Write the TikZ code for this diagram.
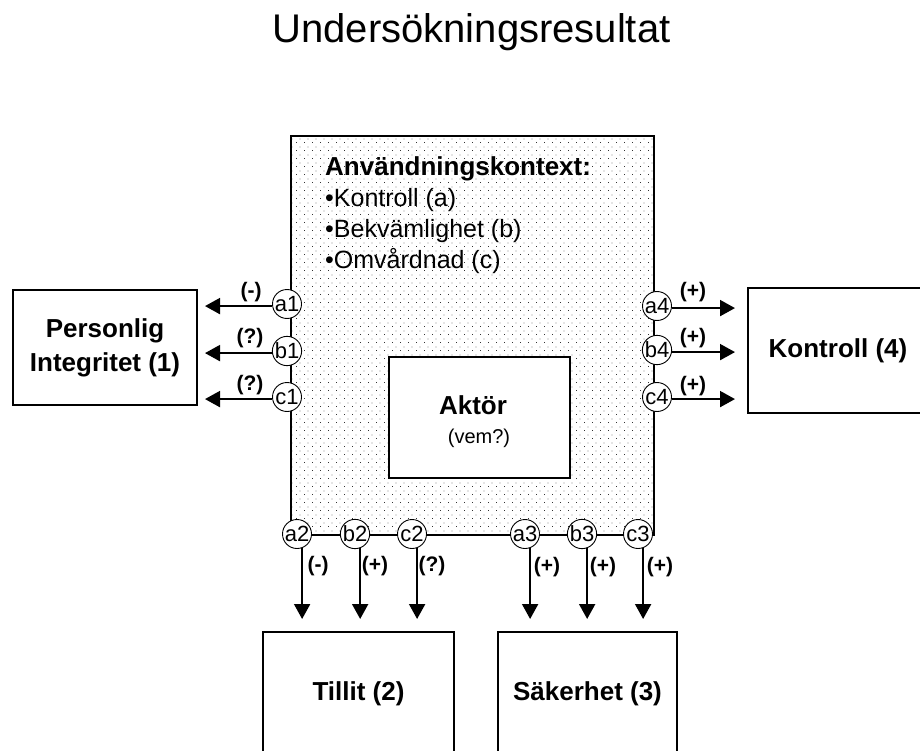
\documentclass[tikz,border=0pt]{standalone}
\usepackage{fontspec}
\setmainfont{Liberation Sans}
\usetikzlibrary{arrows.meta,patterns.meta}
\newcommand{\fsz}[1]{\fontsize{#1}{#1}\selectfont}
\tikzdeclarepattern{
  name=bmdots,
  type=uncolored,
  bounding box={(0pt,0pt) and (8pt,8pt)},
  tile size={(8pt,8pt)},
  code={\fill (0pt,0pt) rectangle (1pt,1pt); \fill (4pt,4pt) rectangle (5pt,5pt);}
}
\begin{document}
\begin{tikzpicture}[x=1pt,y=-1pt,
  frame/.style={draw,line width=2pt},
  port/.style={circle,draw,line width=0.9pt,fill=white,inner sep=0pt,minimum size=29pt,font=\fsz{22}},
  arr/.style={line width=2pt,-{Triangle[width=16pt,length=15pt]}},
  sign/.style={font=\bfseries\fsz{21}},
  boxlbl/.style={font=\bfseries\fsz{26}},
  ctxtxt/.style={anchor=base west,inner sep=0pt,font=\fsz{25}}
]
\useasboundingbox (0,0) rectangle (920,751);
\clip (0,0) rectangle (920,751);

\node[anchor=base, inner sep=0pt] (title) at (471.5,43) {\fsz{40}Undersökningsresultat};

% context box
\node[frame, minimum width=363pt, minimum height=399pt, inner sep=0pt,
      pattern=bmdots, pattern color=black!80, anchor=north west] (ctx) at (290,135) {};
\node[ctxtxt, font=\bfseries\fsz{26}] (ctxh) at (325,176) {Användningskontext:};
\node[ctxtxt] (ka) at (325,207) {•Kontroll (a)};
\node[ctxtxt] (kb) at (325,237) {•Bekvämlighet (b)};
\node[ctxtxt] (kc) at (325,268) {•Omvårdnad (c)};

% actor
\node[frame, fill=white, minimum width=181pt, minimum height=121pt, anchor=north west] (akt) at (388,356) {};
\node[font=\bfseries\fsz{26}] (aktt) at (473,405) {Aktör};
\node[font=\fsz{20}] (vem) at (479,438) {(vem?)};

% target boxes
\node[frame, minimum width=184pt, minimum height=115pt, align=center,
      font=\bfseries\fontsize{26}{34}\selectfont] (pi) at (105,347.5) {Personlig\\Integritet (1)};
\node[frame, boxlbl, minimum width=180pt, minimum height=125pt] (ko) at (838,350.5) {Kontroll (4)};
\node[frame, boxlbl, minimum width=191pt, minimum height=124pt] (tl) at (358.5,694) {Tillit (2)};
\node[frame, boxlbl, minimum width=179pt, minimum height=124pt] (sk) at (587.5,694) {Säkerhet (3)};

% ports
\node[port] (a1) at (287,304) {a1};
\node[port] (b1) at (287,351) {b1};
\node[port] (c1) at (287,397) {c1};
\node[port] (a4) at (657,306) {a4};
\node[port] (b4) at (657,350) {b4};
\node[port] (c4) at (657,397) {c4};
\node[port] (a2) at (297,534) {a2};
\node[port] (b2) at (355,534) {b2};
\node[port] (c2) at (412,534) {c2};
\node[port] (a3) at (525,534) {a3};
\node[port] (b3) at (582,534) {b3};
\node[port] (c3) at (638,534) {c3};

% arrows left
\foreach \p in {a1,b1,c1}
  \draw[arr, shorten >=7pt] (\p.188) -- (\p.188 -| pi.east);
% arrows right
\foreach \p in {a4,b4,c4}
  \draw[arr, shorten >=12pt] (\p.-8) -- (\p.-8 -| ko.west);
% arrows down
\foreach \p in {a2,b2,c2}
  \draw[arr, shorten >=12pt] (\p.-70) -- (\p.-70 |- tl.north);
\foreach \p in {a3,b3,c3}
  \draw[arr, shorten >=12pt] (\p.-70) -- (\p.-70 |- sk.north);

% signs
\node[sign] (s1) at (251,292) {(-)};
\node[sign] (s2) at (250,338) {(?)};
\node[sign] (s3) at (250,385) {(?)};
\node[sign] (s4) at (693,292) {(+)};
\node[sign] (s5) at (693,338) {(+)};
\node[sign] (s6) at (693,386) {(+)};
\node[sign] (s7) at (318,566) {(-)};
\node[sign] (s8) at (375,566) {(+)};
\node[sign] (s9) at (432,566) {(?)};
\node[sign] (s10) at (547,567) {(+)};
\node[sign] (s11) at (603,567) {(+)};
\node[sign] (s12) at (660,567) {(+)};
\end{tikzpicture}
\end{document}
